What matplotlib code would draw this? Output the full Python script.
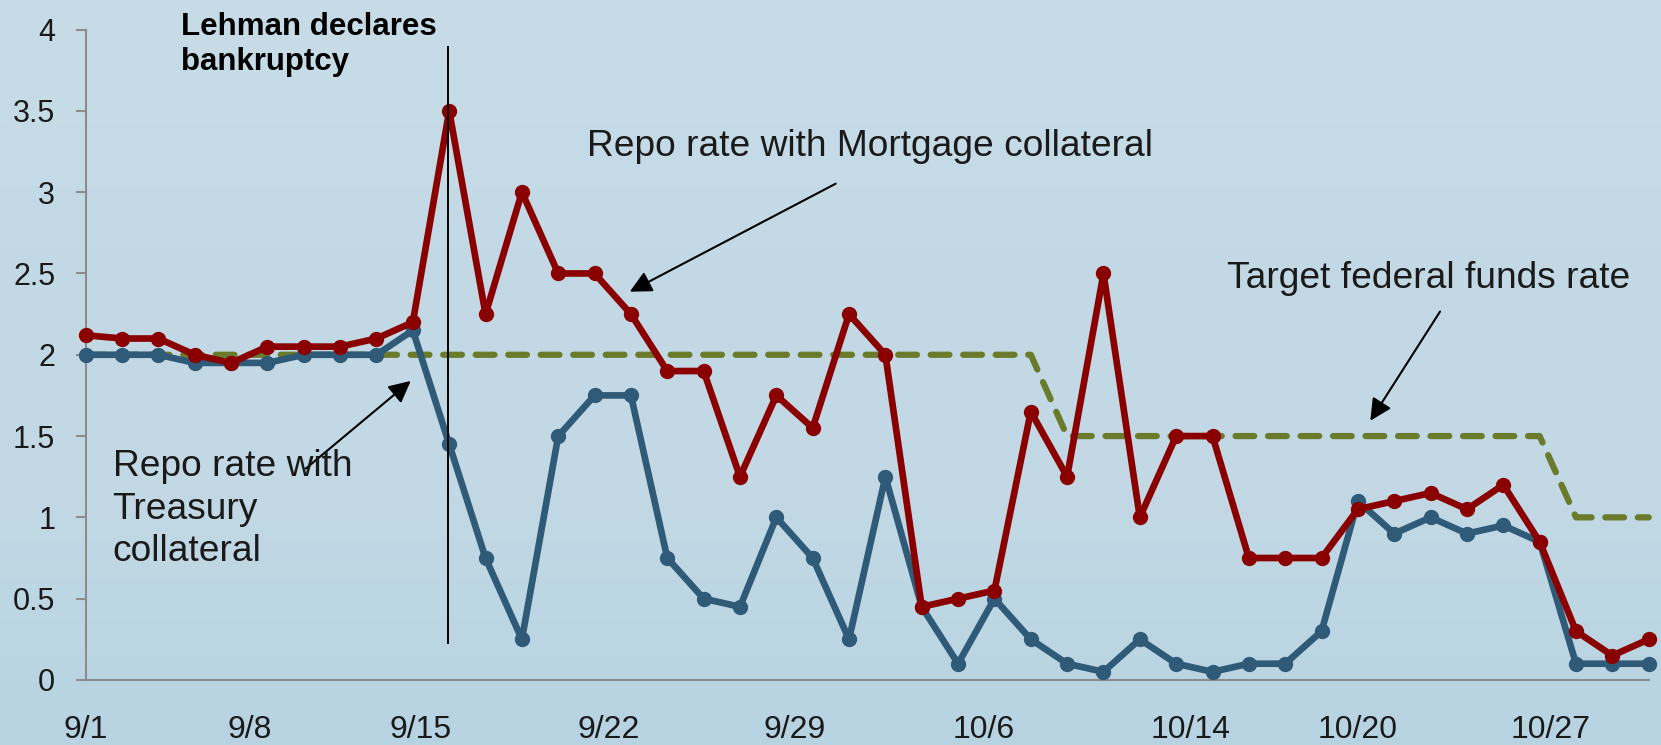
import matplotlib
matplotlib.use('Agg')
import matplotlib.pyplot as plt
import numpy as np
from matplotlib.colors import LinearSegmentedColormap

plt.rcParams['font.family'] = ['Liberation Sans', 'DejaVu Sans']

# Daily repo rates, Sep 1 - Oct 31 2008 (trading days)
mortgage_rate = [2.12, 2.10, 2.10, 2.00, 1.95, 2.05, 2.05, 2.05, 2.10, 2.20,
                 3.50, 2.25, 3.00, 2.50, 2.50, 2.25, 1.90, 1.90, 1.25, 1.75,
                 1.55, 2.25, 2.00, 0.45, 0.50, 0.55, 1.65, 1.25, 2.50, 1.00,
                 1.50, 1.50, 0.75, 0.75, 0.75, 1.05, 1.10, 1.15, 1.05, 1.20,
                 0.85, 0.30, 0.15, 0.25]
treasury_rate = [2.00, 2.00, 2.00, 1.95, 1.95, 1.95, 2.00, 2.00, 2.00, 2.15,
                 1.45, 0.75, 0.25, 1.50, 1.75, 1.75, 0.75, 0.50, 0.45, 1.00,
                 0.75, 0.25, 1.25, 0.45, 0.10, 0.50, 0.25, 0.10, 0.05, 0.25,
                 0.10, 0.05, 0.10, 0.10, 0.30, 1.10, 0.90, 1.00, 0.90, 0.95,
                 0.85, 0.10, 0.10, 0.10]
fed_target = [2.0] * 27 + [1.5] * 14 + [1.0] * 3

date_labels = ['9/1', '9/8', '9/15', '9/22', '9/29', '10/6', '10/14', '10/20', '10/27']
date_label_pos = [0, 4.5, 9.2, 14.4, 19.5, 24.7, 30.4, 35.0, 40.3]
lehman_day = 10

x = np.arange(len(mortgage_rate))

fig = plt.figure(figsize=(16.61, 7.45), dpi=100)

# light blue backdrop
bg = fig.add_axes([0, 0, 1, 1], zorder=-10)
cmap = LinearSegmentedColormap.from_list('bg', ['#c7dce7', '#c3dae6', '#c2d9e5', '#b7d3e1'])
grad = np.linspace(0, 1, 256).reshape(-1, 1)
bg.imshow(grad, aspect='auto', cmap=cmap, extent=[0, 1, 0, 1])
bg.axis('off')

ax = fig.add_axes([0.0516, 0.0873, 0.9410, 0.8730])
ax.patch.set_alpha(0)

red = '#8a0000'
blue = '#2f5a78'
green = '#6b7b2c'

ax.plot(x, fed_target, color=green, lw=4.5, dashes=(3.0, 2.2), dash_capstyle='round',
        zorder=2, clip_on=False)
ax.plot(x, treasury_rate, color=blue, lw=4.8, marker='o', ms=10, zorder=3, clip_on=False)
ax.plot(x, mortgage_rate, color=red, lw=4.8, marker='o', ms=10, zorder=4, clip_on=False)

ax.plot([lehman_day - 0.03] * 2, [0.23, 3.89], color='black', lw=1.4, zorder=5, clip_on=False)

ax.set_xlim(0, len(x) - 1)
ax.set_ylim(0, 4)
ax.set_yticks(np.arange(0, 4.01, 0.5))
ax.set_yticklabels(['0', '0.5', '1', '1.5', '2', '2.5', '3', '3.5', '4'])
ax.set_xticks(date_label_pos)
ax.set_xticklabels(date_labels)
ax.tick_params(axis='y', length=7, width=1.5, color='#8c8c8c', pad=15, labelsize=22,
               labelcolor='#1a1a1a')
ax.tick_params(axis='x', length=0, pad=25, labelsize=23, labelcolor='#1a1a1a')
for s in ['top', 'right']:
    ax.spines[s].set_visible(False)
for s in ['left', 'bottom']:
    ax.spines[s].set_color('#8c8c8c')
    ax.spines[s].set_linewidth(1.5)

ax.text(2.62, 4.11, 'Lehman declares\nbankruptcy', fontsize=22.5, fontweight='bold',
        va='top', ha='left', linespacing=1.22, clip_on=False, color='black')

arrow = dict(arrowstyle='-|>', color='black', lw=1.5, mutation_scale=33)
ax.annotate('', xy=(14.9, 2.38), xytext=(20.7, 3.06), arrowprops=arrow)
ax.text(13.8, 3.28, 'Repo rate with Mortgage collateral', fontsize=26.7, va='center',
        ha='left', color='#1a1a1a')

ax.annotate('', xy=(35.3, 1.58), xytext=(37.3, 2.28), arrowprops=arrow)
ax.text(31.4, 2.47, 'Target federal funds rate', fontsize=26.7, va='center', ha='left',
        color='#1a1a1a')

ax.annotate('', xy=(9.0, 1.85), xytext=(6.0, 1.29), arrowprops=arrow)
ax.text(0.74, 1.05, 'Repo rate with\nTreasury\ncollateral', fontsize=26.7, va='center',
        ha='left', linespacing=1.28, color='#1a1a1a')

fig.savefig('out.png', dpi=100)
